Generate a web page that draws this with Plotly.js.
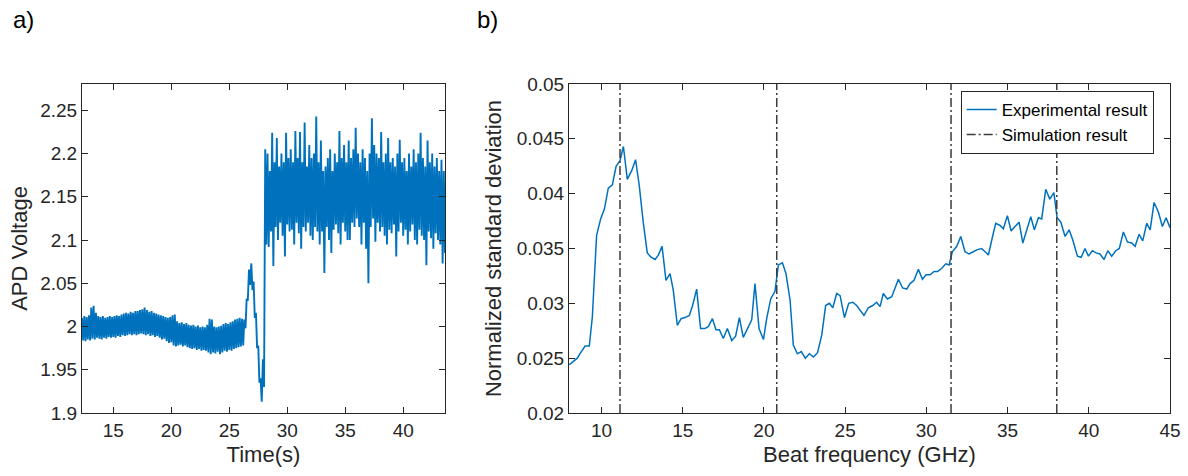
<!DOCTYPE html>
<html>
<head>
<meta charset="utf-8">
<script src="https://cdn.plot.ly/plotly-3.0.1.min.js"></script>
<style>html,body{margin:0;padding:0;background:#fff;}#chart{width:1188px;height:476px;}</style>
</head>
<body>
<div id="chart"></div>
<script>
// ---------- Panel a): APD voltage trace (sampled every 0.1 s from 12.3 s) ----------
const tStart = 12.3;
const tStep = 0.1;
const apdVoltage = [
  2.010, 1.984, 2.012, 1.983, 2.011, 1.985, 2.013,                    // 12.3-12.9
  1.984, 2.022, 1.986, 2.024, 1.985, 2.016, 1.987, 2.012, 1.986, 2.011, // 13
  1.985, 2.012, 1.987, 2.010, 1.986, 2.011, 1.988, 2.012, 1.987, 2.011, // 14
  1.988, 2.012, 1.987, 2.013, 1.989, 2.012, 1.988, 2.014, 1.990, 2.015, // 15
  1.989, 2.016, 1.990, 2.015, 1.991, 2.017, 1.990, 2.016, 1.991, 2.018, // 16
  1.990, 2.018, 1.991, 2.019, 1.992, 2.020, 1.991, 2.022, 1.990, 2.019, // 17
  1.991, 2.017, 1.989, 2.018, 1.990, 2.016, 1.988, 2.015, 1.989, 2.014, // 18
  1.987, 2.013, 1.985, 2.012, 1.986, 2.011, 1.983, 2.010, 1.981, 2.011, // 19
  1.982, 2.013, 1.978, 2.014, 1.977, 2.006, 1.978, 2.004, 1.979, 2.005, // 20
  1.977, 2.003, 1.978, 2.004, 1.976, 2.002, 1.975, 2.001, 1.974, 2.002, // 21
  1.975, 2.000, 1.973, 2.001, 1.974, 1.999, 1.972, 2.000, 1.973, 1.999, // 22
  1.972, 2.002, 1.970, 2.009, 1.968, 2.008, 1.970, 2.000, 1.969, 1.999, // 23
  1.971, 2.000, 1.968, 2.001, 1.970, 2.003, 1.972, 2.004, 1.971, 2.003, // 24
  1.973, 2.005, 1.972, 2.006, 1.974, 2.008, 1.975, 2.009, 1.976, 2.010, // 25
  1.977, 2.009, 1.978, 2.008, 1.998, 2.032, 2.030, 2.066, 2.048, 2.073, // 26
  2.042, 2.052, 2.010, 2.016, 1.975, 1.978, 1.935, 1.940, 1.913, 1.962, // 27
  1.930, 2.205, 2.095, 2.200, 2.092, 2.180, 2.110, 2.224, 2.070, 2.190, // 28
  2.115, 2.218, 2.100, 2.185, 2.120, 2.200, 2.105, 2.190, 2.081, 2.224, // 29
  2.118, 2.195, 2.110, 2.205, 2.112, 2.190, 2.095, 2.226, 2.120, 2.195, // 30
  2.108, 2.225, 2.090, 2.190, 2.115, 2.236, 2.110, 2.185, 2.120, 2.210, // 31
  2.105, 2.195, 2.100, 2.200, 2.115, 2.243, 2.110, 2.190, 2.095, 2.215, // 32
  2.110, 2.180, 2.062, 2.185, 2.115, 2.195, 2.100, 2.205, 2.085, 2.180, // 33
  2.112, 2.200, 2.118, 2.190, 2.108, 2.226, 2.095, 2.195, 2.120, 2.210, // 34
  2.110, 2.190, 2.100, 2.215, 2.100, 2.195, 2.120, 2.205, 2.115, 2.230, // 35
  2.125, 2.200, 2.115, 2.190, 2.095, 2.205, 2.120, 2.195, 2.090, 2.180, // 36
  2.050, 2.200, 2.115, 2.241, 2.125, 2.210, 2.098, 2.200, 2.120, 2.195, // 37
  2.110, 2.225, 2.115, 2.190, 2.105, 2.200, 2.095, 2.218, 2.112, 2.190, // 38
  2.108, 2.195, 2.118, 2.185, 2.081, 2.200, 2.110, 2.216, 2.120, 2.190, // 39
  2.105, 2.195, 2.112, 2.180, 2.095, 2.200, 2.110, 2.185, 2.118, 2.205, // 40
  2.100, 2.190, 2.095, 2.200, 2.112, 2.224, 2.105, 2.195, 2.100, 2.185, // 41
  2.071, 2.215, 2.110, 2.190, 2.102, 2.200, 2.090, 2.185, 2.108, 2.195, // 42
  2.100, 2.180, 2.095, 2.193, 2.073, 2.180, 2.085                      // 43.0-43.6
];
const aTickVals = [15, 20, 25, 30, 35, 40];
const aYTickVals = [1.9, 1.95, 2, 2.05, 2.1, 2.15, 2.2, 2.25];
const aYTickText = ['1.9', '1.95', '2', '2.05', '2.1', '2.15', '2.2', '2.25'];

// ---------- Panel b): normalized standard deviation vs beat frequency ----------
const beatFreq = [
  8.02, 8.27, 8.51, 8.72, 8.99, 9.25, 9.44, 9.70, 9.95, 10.18,
  10.42, 10.67, 10.90, 11.14, 11.35, 11.59, 11.86, 12.10, 12.33, 12.57,
  12.82, 13.05, 13.30, 13.50, 13.73, 13.97, 14.22, 14.42, 14.67, 14.90,
  15.14, 15.41, 15.61, 15.86, 16.10, 16.37, 16.58, 16.83, 17.05, 17.26,
  17.50, 17.75, 18.02, 18.26, 18.49, 18.73, 18.98, 19.25, 19.45, 19.70,
  19.97, 20.17, 20.42, 20.68, 20.89, 21.14, 21.36, 21.61, 21.81, 22.06,
  22.30, 22.55, 22.80, 23.05, 23.30, 23.56, 23.80, 24.03, 24.24, 24.48,
  24.69, 24.96, 25.22, 25.47, 25.71, 25.92, 26.16, 26.43, 26.70, 26.94,
  27.15, 27.35, 27.60, 27.87, 28.28, 28.54, 28.79, 29.00, 29.24, 29.51,
  29.76, 29.98, 30.23, 30.48, 30.70, 30.95, 31.20, 31.40, 31.60, 31.87,
  32.12, 32.38, 32.63, 32.89, 33.14, 33.41, 33.61, 33.82, 34.03, 34.27,
  34.54, 34.74, 34.99, 35.22, 35.46, 35.71, 35.94, 36.18, 36.43, 36.65,
  36.90, 37.10, 37.35, 37.60, 37.85, 38.05, 38.28, 38.54, 38.79, 39.01,
  39.30, 39.53, 39.77, 39.98, 40.22, 40.45, 40.69, 40.94, 41.17, 41.41,
  41.66, 41.88, 42.13, 42.38, 42.64, 42.85, 43.10, 43.32, 43.57, 43.78,
  44.02, 44.29, 44.53, 44.76, 45.00
];
const normStd = [
  0.0244, 0.0247, 0.0250, 0.0255, 0.0261, 0.0261, 0.0288, 0.0362, 0.0377, 0.0386,
  0.0405, 0.0408, 0.0425, 0.0430, 0.0443, 0.0413, 0.0421, 0.0431, 0.0407, 0.0374,
  0.0346, 0.0342, 0.0340, 0.0344, 0.0352, 0.0321, 0.0327, 0.0312, 0.0280, 0.0286,
  0.0287, 0.0289, 0.0298, 0.0313, 0.0277, 0.0277, 0.0279, 0.0286, 0.0276, 0.0276,
  0.0268, 0.0277, 0.0266, 0.0270, 0.0287, 0.0269, 0.0277, 0.0285, 0.0318, 0.0277,
  0.0267, 0.0286, 0.0304, 0.0311, 0.0335, 0.0337, 0.0327, 0.0303, 0.0262, 0.0254,
  0.0256, 0.0250, 0.0254, 0.0251, 0.0255, 0.0271, 0.0298, 0.0300, 0.0296, 0.0309,
  0.0307, 0.0287, 0.0300, 0.0301, 0.0298, 0.0294, 0.0289, 0.0296, 0.0298, 0.0301,
  0.0297, 0.0309, 0.0304, 0.0306, 0.0322, 0.0314, 0.0313, 0.0318, 0.0321, 0.0331,
  0.0322, 0.0326, 0.0326, 0.0329, 0.0329, 0.0332, 0.0336, 0.0335, 0.0347, 0.0352,
  0.0361, 0.0347, 0.0345, 0.0347, 0.0349, 0.0350, 0.0347, 0.0344, 0.0358, 0.0373,
  0.0371, 0.0368, 0.0380, 0.0366, 0.0370, 0.0374, 0.0355, 0.0367, 0.0379, 0.0367,
  0.0378, 0.0377, 0.0404, 0.0395, 0.0401, 0.0378, 0.0374, 0.0361, 0.0367, 0.0358,
  0.0343, 0.0342, 0.0350, 0.0343, 0.0348, 0.0346, 0.0345, 0.0340, 0.0348, 0.0343,
  0.0348, 0.0350, 0.0365, 0.0356, 0.0355, 0.0352, 0.0363, 0.0357, 0.0373, 0.0367,
  0.0392, 0.0383, 0.0370, 0.0378, 0.0369
];
const simFreq = [11.14, 20.79, 31.52, 38.03];
const bXTickVals = [10, 15, 20, 25, 30, 35, 40, 45];
const bYTickVals = [0.02, 0.025, 0.03, 0.035, 0.04, 0.045, 0.05];
const bYTickText = ['0.02', '0.025', '0.03', '0.035', '0.04', '0.045', '0.05'];
const bYRange = [0.02, 0.05];

// vertical simulation markers built from simFreq
const simX = [], simY = [];
simFreq.forEach(f => { simX.push(f, f, null); simY.push(bYRange[0], bYRange[1], null); });

const FONT = 'Liberation Sans, Arial, Helvetica, sans-serif';
const INK = '#262626';
const BLUE = '#0072BD';

const axisBase = {
  showline: true, linecolor: INK, linewidth: 1, mirror: 'ticks',
  ticks: 'inside', ticklen: 6, tickwidth: 1, tickcolor: INK,
  showgrid: false, zeroline: false,
  tickfont: {family: FONT, size: 19, color: INK}
};

const traces = [
  {x0: tStart, dx: tStep, y: apdVoltage, type: 'scatter', mode: 'lines',
   line: {color: BLUE, width: 1.9}, xaxis: 'x', yaxis: 'y', showlegend: false, hoverinfo: 'skip'},
  {x: beatFreq, y: normStd, type: 'scatter', mode: 'lines', name: 'Experimental result',
   line: {color: BLUE, width: 1.5}, xaxis: 'x2', yaxis: 'y2'},
  {x: simX, y: simY, type: 'scatter', mode: 'lines', name: 'Simulation result',
   line: {color: '#3c3c3c', width: 1.5, dash: '9px,3px,2px,3px'}, xaxis: 'x2', yaxis: 'y2'}
];

const layout = {
  width: 1188, height: 476,
  margin: {l: 82, r: 18, t: 84, b: 63},
  paper_bgcolor: '#fff', plot_bgcolor: '#fff',
  font: {family: FONT, color: INK},
  xaxis: Object.assign({}, axisBase, {
    domain: [0, 0.3336], range: [12.3, 43.6], tickvals: aTickVals,
    title: {text: 'Time(s)', font: {family: FONT, size: 22, color: INK}, standoff: 6}
  }),
  yaxis: Object.assign({}, axisBase, {
    domain: [0, 1], range: [1.9, 2.2805], tickvals: aYTickVals, ticktext: aYTickText,
    title: {text: 'APD Voltage', font: {family: FONT, size: 22, color: INK}, standoff: 6}
  }),
  xaxis2: Object.assign({}, axisBase, {
    domain: [0.4476, 1], range: [8, 45], tickvals: bXTickVals, anchor: 'y2',
    title: {text: 'Beat frequency (GHz)', font: {family: FONT, size: 22, color: INK}, standoff: 6}
  }),
  yaxis2: Object.assign({}, axisBase, {
    domain: [0, 1], range: bYRange, tickvals: bYTickVals, ticktext: bYTickText, anchor: 'x2',
    title: {text: 'Normalized standard deviation', font: {family: FONT, size: 22, color: INK}, standoff: 8}
  }),
  legend: {
    x: 0.985, xanchor: 'right', y: 0.979, yanchor: 'top',
    bgcolor: '#fff', bordercolor: INK, borderwidth: 1,
    font: {family: FONT, size: 17, color: '#000'}, itemwidth: 30, tracegroupgap: 0
  },
  annotations: [
    {text: 'a)', xref: 'paper', yref: 'paper', x: -0.065, y: 1.195, xanchor: 'left', yanchor: 'middle',
     showarrow: false, font: {family: FONT, size: 24, color: '#000'}},
    {text: 'b)', xref: 'paper', yref: 'paper', x: 0.361, y: 1.195, xanchor: 'left', yanchor: 'middle',
     showarrow: false, font: {family: FONT, size: 24, color: '#000'}}
  ]
};

Plotly.newPlot('chart', traces, layout, {displayModeBar: false, staticPlot: true});
</script>
</body>
</html>
